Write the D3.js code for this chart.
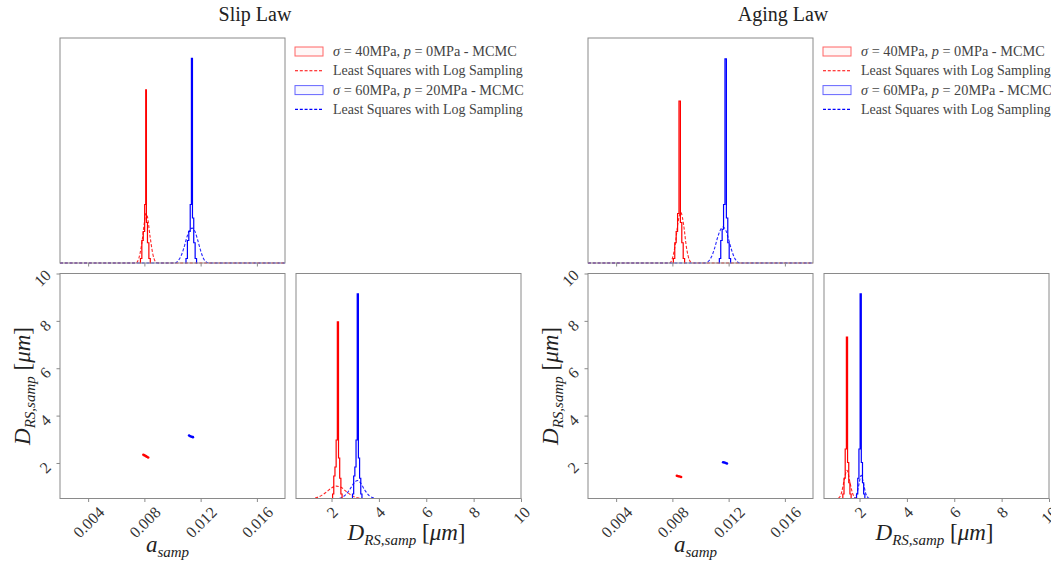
<!DOCTYPE html>
<html>
<head>
<meta charset="utf-8">
<script src="https://cdn.jsdelivr.net/npm/d3@7"></script>
<style>
  body { margin: 0; background: #fff; }
  svg { display: block; font-family: "Liberation Serif", serif; }
</style>
</head>
<body>
<svg width="1051" height="562"></svg>
<script>
// shared axes
var aDomain = [0.002, 0.018];
var dDomain = [0.5, 10];
var aTicks = [0.004, 0.008, 0.012, 0.016];
var dTicks = [2, 4, 6, 8, 10];
var aTickLabels = ['0.004', '0.008', '0.012', '0.016'];
var dTickLabels = ['2', '4', '6', '8', '10'];

var titles = ['Slip Law', 'Aging Law'];

// Slip law: MCMC histograms of a (bin centre, relative density)
var slipRedAHist = [[0.00767,0],[0.00777,0.02],[0.00787,0.1],[0.00797,0.14],[0.00807,0.26],[0.00812,0.77],[0.00817,0.18],[0.00827,0.09],[0.00837,0.02],[0.00847,0]];
var slipBlueAHist = [[0.01091,0],[0.01101,0.02],[0.01111,0.1],[0.01121,0.14],[0.01131,0.26],[0.01138,0.91],[0.01146,0.2],[0.01156,0.09],[0.01166,0.02],[0.01176,0]];
// Slip law: least squares curves for a
var slipRedALs = [[0.002,0],[0.0074,0],[0.0076,0.02],[0.0078,0.08],[0.0080,0.18],[0.0081,0.22],[0.0082,0.21],[0.0084,0.12],[0.0086,0.04],[0.0088,0.005],[0.0090,0],[0.018,0]];
var slipBlueALs = [[0.002,0],[0.0102,0],[0.0104,0.01],[0.0106,0.03],[0.0108,0.065],[0.0110,0.11],[0.0112,0.145],[0.0114,0.155],[0.0116,0.14],[0.0118,0.1],[0.0120,0.055],[0.0122,0.02],[0.0124,0.005],[0.0126,0],[0.018,0]];
// Slip law: MCMC histograms of D_RS
var slipRedDHist = [[2.02,0],[2.07,0.02],[2.12,0.1],[2.17,0.14],[2.22,0.26],[2.27,0.785],[2.32,0.18],[2.37,0.09],[2.42,0.02],[2.47,0]];
var slipBlueDHist = [[2.86,0],[2.91,0.02],[2.96,0.1],[3.01,0.14],[3.06,0.26],[3.11,0.91],[3.16,0.18],[3.21,0.09],[3.26,0.02],[3.31,0]];
var slipRedDLs = [[0.5,0],[1.2,0],[1.4,0.005],[1.6,0.015],[1.8,0.03],[2.0,0.047],[2.2,0.055],[2.4,0.05],[2.6,0.033],[2.8,0.017],[3.0,0.006],[3.2,0.002],[3.4,0],[10,0]];
var slipBlueDLs = [[0.5,0],[2.3,0],[2.4,0.003],[2.6,0.017],[2.8,0.045],[3.0,0.075],[3.1,0.08],[3.2,0.073],[3.4,0.038],[3.6,0.012],[3.8,0.002],[3.9,0],[10,0]];
// Slip law: joint samples (a, D_RS)
var slipRedJoint = [[0.00793,2.35],[0.00801,2.32],[0.00810,2.29],[0.00818,2.26],[0.00827,2.23]];
var slipBlueJoint = [[0.01118,3.16],[0.01127,3.13],[0.01136,3.11],[0.01145,3.09]];

// Aging law
var agingRedAHist = [[0.00802,0],[0.00812,0.02],[0.00822,0.09],[0.00832,0.14],[0.00842,0.22],[0.00852,0.72],[0.00862,0.18],[0.00872,0.09],[0.00882,0.02],[0.00892,0]];
var agingBlueAHist = [[0.01129,0],[0.01139,0.02],[0.01149,0.1],[0.01159,0.15],[0.01169,0.26],[0.01179,0.907],[0.01189,0.2],[0.01199,0.09],[0.01209,0.02],[0.01219,0]];
var agingRedALs = [[0.002,0],[0.0078,0],[0.0080,0.02],[0.0082,0.08],[0.0084,0.18],[0.0086,0.225],[0.0088,0.17],[0.0090,0.07],[0.0092,0.015],[0.0094,0],[0.018,0]];
var agingBlueALs = [[0.002,0],[0.0104,0],[0.0106,0.01],[0.0108,0.03],[0.0110,0.065],[0.0112,0.11],[0.0114,0.145],[0.0116,0.16],[0.0118,0.145],[0.0120,0.105],[0.0122,0.06],[0.0124,0.025],[0.0126,0.007],[0.0128,0],[0.018,0]];
var agingRedDHist = [[1.27,0],[1.32,0.02],[1.37,0.09],[1.42,0.22],[1.47,0.717],[1.52,0.16],[1.57,0.07],[1.62,0.02],[1.67,0]];
var agingBlueDHist = [[1.85,0],[1.90,0.02],[1.95,0.09],[2.00,0.22],[2.05,0.91],[2.10,0.16],[2.15,0.07],[2.20,0.02],[2.25,0]];
var agingRedDLs = [[0.5,0],[1.05,0],[1.15,0.005],[1.25,0.03],[1.35,0.08],[1.47,0.125],[1.6,0.07],[1.7,0.025],[1.8,0.005],[1.9,0],[10,0]];
var agingBlueDLs = [[0.5,0],[1.75,0],[1.85,0.01],[1.95,0.05],[2.07,0.103],[2.17,0.065],[2.27,0.02],[2.37,0.003],[2.45,0],[10,0]];
var agingRedJoint = [[0.00832,1.46],[0.00842,1.44],[0.00852,1.43],[0.00862,1.41]];
var agingBlueJoint = [[0.01161,2.03],[0.01170,2.02],[0.01179,2.00],[0.01188,1.98]];

var RED = '#ff0000', BLUE = '#0000ff', FRAME = '#8a8a8a';
var size = 225;
var topY = 38, botY = 273.5;
var tickFont = 16;

var svg = d3.select('svg');

var xA = d3.scaleLinear().domain(aDomain).range([0, size]);
var xD = d3.scaleLinear().domain(dDomain).range([0, size]);
var yD = d3.scaleLinear().domain(dDomain).range([size, 0]);
var yDens = d3.scaleLinear().domain([0, 1]).range([size, 0]);

function frame(g) {
  g.append('rect')
    .attr('width', size).attr('height', size)
    .attr('fill', 'none').attr('stroke', FRAME).attr('stroke-width', 1);
}

function styleAxis(g) {
  g.select('.domain').remove();
  g.selectAll('.tick line').attr('stroke', FRAME);
  g.selectAll('.tick text').attr('fill', '#333').style('font-size', tickFont + 'px')
    .style('font-family', '"Liberation Serif", serif');
}

function bottomTicks(g, scale, ticks, labels, showLabels) {
  var ax = g.append('g')
    .attr('transform', `translate(0,${size})`)
    .call(d3.axisBottom(scale).tickValues(ticks).tickSize(3.5).tickSizeOuter(0)
      .tickFormat((d, i) => showLabels ? labels[i] : ''));
  styleAxis(ax);
  if (!showLabels) return;
  ax.selectAll('.tick text').each(function() {
    var len = this.getComputedTextLength();
    var s = (len + tickFont * 0.7) * 0.7071;
    var cy = 7 + s / 2;
    d3.select(this).attr('x', 0).attr('y', cy).attr('dy', '0.35em')
      .attr('text-anchor', 'middle')
      .attr('transform', `rotate(-45,0,${cy})`);
  });
}

function leftTicks(g, scale, ticks, labels) {
  var ax = g.append('g')
    .call(d3.axisLeft(scale).tickValues(ticks).tickSize(3.5).tickSizeOuter(0)
      .tickFormat((d, i) => labels[i]));
  styleAxis(ax);
  ax.selectAll('.tick text').each(function() {
    var len = this.getComputedTextLength();
    var s = (len + tickFont * 0.7) * 0.7071;
    var cx = -(8 + s / 2), cy = 4;
    d3.select(this).attr('x', cx).attr('y', cy).attr('dy', '0.35em')
      .attr('text-anchor', 'middle')
      .attr('transform', `rotate(-45,${cx},${cy})`);
  });
}

function stepLine(g, data, xs, color) {
  g.append('path').datum(data)
    .attr('fill', 'none').attr('stroke', color).attr('stroke-width', 1.2)
    .attr('d', d3.line().x(d => xs(d[0])).y(d => yDens(d[1])).curve(d3.curveStep));
}

function dashLine(g, data, xs, color) {
  g.append('path').datum(data)
    .attr('fill', 'none').attr('stroke', color).attr('stroke-width', 1.1)
    .attr('stroke-dasharray', '3,1.8').attr('opacity', 0.85)
    .attr('d', d3.line().x(d => xs(d[0])).y(d => yDens(d[1])).curve(d3.curveMonotoneX));
}

function mathLabel(t, main, sub, tail) {
  t.append('tspan').style('font-style', 'italic').text(main);
  t.append('tspan').style('font-style', 'italic').style('font-size', '15px')
    .attr('dy', 5).text(sub);
  if (tail) {
    t.append('tspan').attr('dy', -5).text(' [');
    t.append('tspan').style('font-style', 'italic').text('\u03bcm');
    t.append('tspan').text(']');
  }
}

function legend(g, x0) {
  var rows = [
    { kind: 'patch', color: RED, sig: '40', p: '0' },
    { kind: 'dash', color: RED },
    { kind: 'patch', color: BLUE, sig: '60', p: '20' },
    { kind: 'dash', color: BLUE }
  ];
  rows.forEach((r, i) => {
    var cy = 51.5 + i * 19.3;
    if (r.kind === 'patch') {
      g.append('rect').attr('x', x0).attr('y', cy - 4.5).attr('width', 28).attr('height', 9)
        .attr('fill', r.color).attr('fill-opacity', 0.03)
        .attr('stroke', r.color).attr('stroke-opacity', 0.6).attr('stroke-width', 1);
      var t = g.append('text').attr('x', x0 + 38).attr('y', cy + 4.5)
        .attr('fill', '#444').style('font-size', '14.3px');
      t.append('tspan').style('font-style', 'italic').text('\u03c3');
      t.append('tspan').text(` = ${r.sig}MPa, `);
      t.append('tspan').style('font-style', 'italic').text('p');
      t.append('tspan').text(` = ${r.p}MPa - MCMC`);
    } else {
      g.append('line').attr('x1', x0).attr('x2', x0 + 28).attr('y1', cy).attr('y2', cy)
        .attr('stroke', r.color).attr('stroke-width', 1.1).attr('stroke-dasharray', '3,1.8');
      g.append('text').attr('x', x0 + 38).attr('y', cy + 4.5)
        .attr('fill', '#444').style('font-size', '14px')
        .text('Least Squares with Log Sampling');
    }
  });
}

function corner(left, title, d) {
  var block = svg.append('g');

  block.append('text')
    .attr('x', left + 195).attr('y', 21)
    .attr('text-anchor', 'middle').attr('fill', '#222')
    .style('font-size', '20px').text(title);

  // top: marginal of a
  var top = block.append('g').attr('transform', `translate(${left},${topY})`);
  dashLine(top, d.redALs, xA, RED);
  dashLine(top, d.blueALs, xA, BLUE);
  stepLine(top, d.redAHist, xA, RED);
  stepLine(top, d.blueAHist, xA, BLUE);
  frame(top);
  bottomTicks(top, xA, aTicks, aTickLabels, false);

  // bottom-left: joint
  var sc = block.append('g').attr('transform', `translate(${left},${botY})`);
  sc.selectAll('circle.r').data(d.redJoint).enter().append('circle')
    .attr('cx', p => xA(p[0])).attr('cy', p => yD(p[1])).attr('r', 1.3).attr('fill', RED);
  sc.selectAll('circle.b').data(d.blueJoint).enter().append('circle')
    .attr('cx', p => xA(p[0])).attr('cy', p => yD(p[1])).attr('r', 1.3).attr('fill', BLUE);
  frame(sc);
  bottomTicks(sc, xA, aTicks, aTickLabels, true);
  leftTicks(sc, yD, dTicks, dTickLabels);

  var xl = sc.append('text').attr('x', size / 2 - 5).attr('y', 278)
    .attr('text-anchor', 'middle').attr('fill', '#222').style('font-size', '23px');
  mathLabel(xl, 'a', 'samp', false);

  var yl = sc.append('text').attr('transform', `translate(-30,${size / 2}) rotate(-90)`)
    .attr('text-anchor', 'middle').attr('fill', '#222').style('font-size', '23px');
  mathLabel(yl, 'D', 'RS,samp', true);

  // bottom-right: marginal of D
  var hr = block.append('g').attr('transform', `translate(${left + 236},${botY})`);
  dashLine(hr, d.redDLs, xD, RED);
  dashLine(hr, d.blueDLs, xD, BLUE);
  stepLine(hr, d.redDHist, xD, RED);
  stepLine(hr, d.blueDHist, xD, BLUE);
  frame(hr);
  bottomTicks(hr, xD, dTicks, dTickLabels, true);

  var hl = hr.append('text').attr('x', size / 2 - 2).attr('y', 266)
    .attr('text-anchor', 'middle').attr('fill', '#222').style('font-size', '23px');
  mathLabel(hl, 'D', 'RS,samp', true);

  legend(block, left + 235);
}

corner(60, titles[0], {
  redAHist: slipRedAHist, blueAHist: slipBlueAHist,
  redALs: slipRedALs, blueALs: slipBlueALs,
  redDHist: slipRedDHist, blueDHist: slipBlueDHist,
  redDLs: slipRedDLs, blueDLs: slipBlueDLs,
  redJoint: slipRedJoint, blueJoint: slipBlueJoint
});

corner(588, titles[1], {
  redAHist: agingRedAHist, blueAHist: agingBlueAHist,
  redALs: agingRedALs, blueALs: agingBlueALs,
  redDHist: agingRedDHist, blueDHist: agingBlueDHist,
  redDLs: agingRedDLs, blueDLs: agingBlueDLs,
  redJoint: agingRedJoint, blueJoint: agingBlueJoint
});
</script>
</body>
</html>
